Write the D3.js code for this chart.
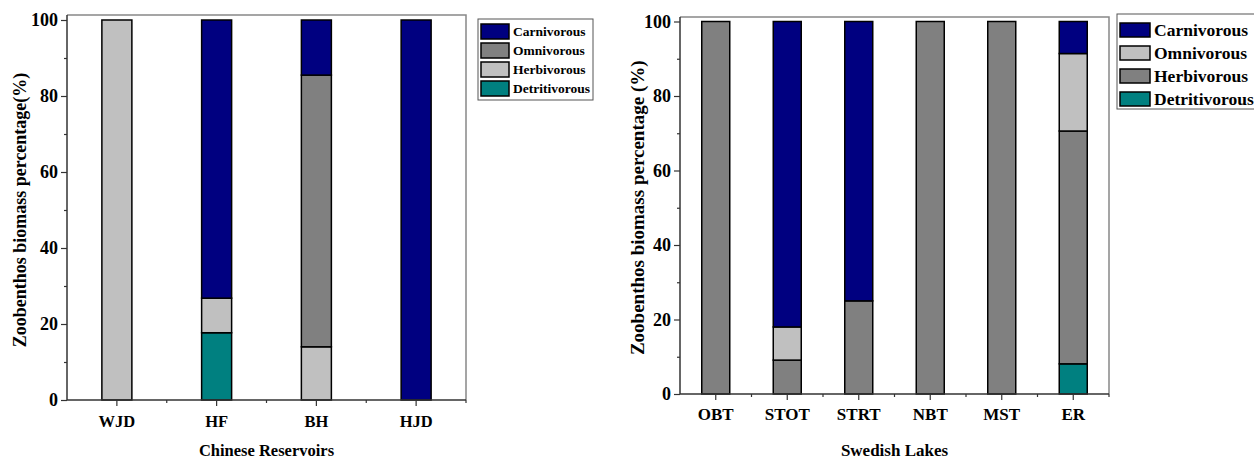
<!DOCTYPE html>
<html>
<head>
<meta charset="utf-8">
<script src="https://cdn.jsdelivr.net/npm/d3@7"></script>
<style>
  body { margin: 0; background: #fff; }
  svg text { font-family: "Liberation Serif", "Times New Roman", serif; font-weight: bold; fill: #000; }
</style>
</head>
<body>
<svg id="chart" width="1254" height="459"></svg>
<script>
// stacked from bottom to top: Detritivorous, Herbivorous, Omnivorous, Carnivorous
const groups = ["Detritivorous", "Herbivorous", "Omnivorous", "Carnivorous"];
const legendOrder = ["Carnivorous", "Omnivorous", "Herbivorous", "Detritivorous"];
const yTicks = [0, 20, 40, 60, 80, 100];
const yMinorTicks = [10, 30, 50, 70, 90];

const leftCats = ["WJD", "HF", "BH", "HJD"];
const leftDetritivorous = [0, 17.7, 0, 0];
const leftHerbivorous = [100, 9.1, 14.0, 0];
const leftOmnivorous = [0, 0, 71.5, 0];
const leftCarnivorous = [0, 73.2, 14.5, 100];

const rightCats = ["OBT", "STOT", "STRT", "NBT", "MST", "ER"];
const rightDetritivorous = [0, 0, 0, 0, 0, 8.1];
const rightHerbivorous = [100, 9.1, 25, 100, 100, 62.5];
const rightOmnivorous = [0, 8.9, 0, 0, 0, 20.8];
const rightCarnivorous = [0, 82, 75, 0, 0, 8.6];

const svg = d3.select("#chart");

function panel(cfg) {
  const { cats, series, colors, x0, x1, yTop, yBottom, frameTop, barW, font, legend } = cfg;

  const rows = cats.map((c, i) => {
    const r = { cat: c };
    groups.forEach((g) => (r[g] = series[g][i]));
    return r;
  });
  const stack = d3.stack().keys(groups)(rows);

  const x = d3.scaleBand().domain(cats).range([x0, x1]).padding(0);
  const y = d3.scaleLinear().domain([0, 100]).range([yBottom, yTop]);
  const g = svg.append("g");

  // frame top + right
  g.append("path")
    .attr("d", `M${x0},${frameTop}H${x1}V${yBottom}`)
    .attr("fill", "none")
    .attr("stroke", "#888")
    .attr("stroke-width", 1.5);

  // bars
  g.selectAll("g.layer")
    .data(stack)
    .enter()
    .append("g")
    .attr("fill", (d) => colors[d.key])
    .selectAll("rect")
    .data((d) => d.filter((s) => s[1] - s[0] > 0))
    .enter()
    .append("rect")
    .attr("x", (d) => x(d.data.cat) + x.bandwidth() / 2 - barW / 2)
    .attr("width", barW)
    .attr("y", (d) => y(d[1]))
    .attr("height", (d) => y(d[0]) - y(d[1]))
    .attr("stroke", "#000")
    .attr("stroke-width", 1.5);

  // y axis
  const yAxis = g.append("g")
    .attr("transform", `translate(${x0},0)`)
    .call(d3.axisLeft(y).tickValues(yTicks).tickSize(6).tickPadding(3));
  yAxis.select(".domain").remove();
  yAxis.selectAll("text").style("font-size", font.tick + "px");
  g.append("g")
    .attr("transform", `translate(${x0},0)`)
    .call(d3.axisLeft(y).tickValues(yMinorTicks).tickSize(3).tickFormat(""))
    .select(".domain").remove();
  g.append("line")
    .attr("x1", x0).attr("x2", x0)
    .attr("y1", frameTop).attr("y2", yBottom)
    .attr("stroke", "#333").attr("stroke-width", 1.5);

  // x axis
  const xAxis = g.append("g")
    .attr("transform", `translate(0,${yBottom})`)
    .call(d3.axisBottom(x).tickSize(6).tickPadding(font.xPad));
  xAxis.select(".domain").remove();
  xAxis.selectAll("text").style("font-size", font.cat + "px");
  g.append("g")
    .attr("transform", `translate(0,${yBottom})`)
    .call(d3.axisBottom(x).tickSize(3).tickFormat("").offset(0))
    .call((a) => a.select(".domain").remove())
    .selectAll(".tick")
    .attr("transform", (d) => `translate(${x(d) + x.step()},0)`);
  g.append("line")
    .attr("x1", x0).attr("x2", x1)
    .attr("y1", yBottom).attr("y2", yBottom)
    .attr("stroke", "#333").attr("stroke-width", 1.5);
  g.selectAll(".tick line").attr("stroke", "#333").attr("stroke-width", 1.2);

  // titles
  g.append("text")
    .attr("x", (x0 + x1) / 2)
    .attr("y", cfg.xTitleY)
    .attr("text-anchor", "middle")
    .style("font-size", font.title + "px")
    .text(cfg.xTitle);
  g.append("text")
    .attr("transform", `translate(${cfg.yTitleX},${(yTop + yBottom) / 2}) rotate(-90)`)
    .attr("text-anchor", "middle")
    .attr("dominant-baseline", "central")
    .style("font-size", font.yTitle + "px")
    .text(cfg.yTitle);

  // legend
  const lg = g.append("g");
  lg.append("rect")
    .attr("x", legend.x).attr("y", legend.y)
    .attr("width", legend.w).attr("height", legend.h)
    .attr("fill", "#fff").attr("stroke", "#555").attr("stroke-width", 1);
  const item = lg.selectAll("g.item")
    .data(legendOrder)
    .enter()
    .append("g")
    .attr("transform", (d, i) => `translate(${legend.x + 3},${legend.y + legend.pad + i * legend.step})`);
  item.append("rect")
    .attr("width", legend.sw).attr("height", legend.sh)
    .attr("fill", (d) => colors[d])
    .attr("stroke", "#000").attr("stroke-width", 1.5);
  item.append("text")
    .attr("x", legend.sw + 4)
    .attr("y", legend.sh / 2)
    .attr("dominant-baseline", "central")
    .style("font-size", legend.font + "px")
    .text((d) => d);
}

panel({
  cats: leftCats,
  series: {
    Detritivorous: leftDetritivorous,
    Herbivorous: leftHerbivorous,
    Omnivorous: leftOmnivorous,
    Carnivorous: leftCarnivorous
  },
  colors: { Carnivorous: "#000080", Omnivorous: "#808080", Herbivorous: "#c0c0c0", Detritivorous: "#008080" },
  x0: 67, x1: 466, yTop: 20, yBottom: 400, frameTop: 15, barW: 30,
  font: { tick: 18, cat: 16.5, title: 16.5, yTitle: 18, xPad: 9 },
  xTitle: "Chinese Reservoirs", xTitleY: 456,
  yTitle: "Zoobenthos biomass percentage(%)", yTitleX: 20,
  legend: { x: 478, y: 19, w: 115, h: 81, pad: 5, step: 19, sw: 28, sh: 15, font: 13.5 }
});

panel({
  cats: rightCats,
  series: {
    Detritivorous: rightDetritivorous,
    Herbivorous: rightHerbivorous,
    Omnivorous: rightOmnivorous,
    Carnivorous: rightCarnivorous
  },
  colors: { Carnivorous: "#000080", Omnivorous: "#c0c0c0", Herbivorous: "#808080", Detritivorous: "#008080" },
  x0: 680, x1: 1109, yTop: 21.5, yBottom: 394, frameTop: 17, barW: 28,
  font: { tick: 18, cat: 17, title: 17, yTitle: 19, xPad: 8 },
  xTitle: "Swedish Lakes", xTitleY: 456,
  yTitle: "Zoobenthos biomass percentage (%)", yTitleX: 637,
  legend: { x: 1117, y: 14, w: 150, h: 95, pad: 9, step: 23, sw: 30, sh: 14, font: 17.5 }
});
</script>
</body>
</html>
